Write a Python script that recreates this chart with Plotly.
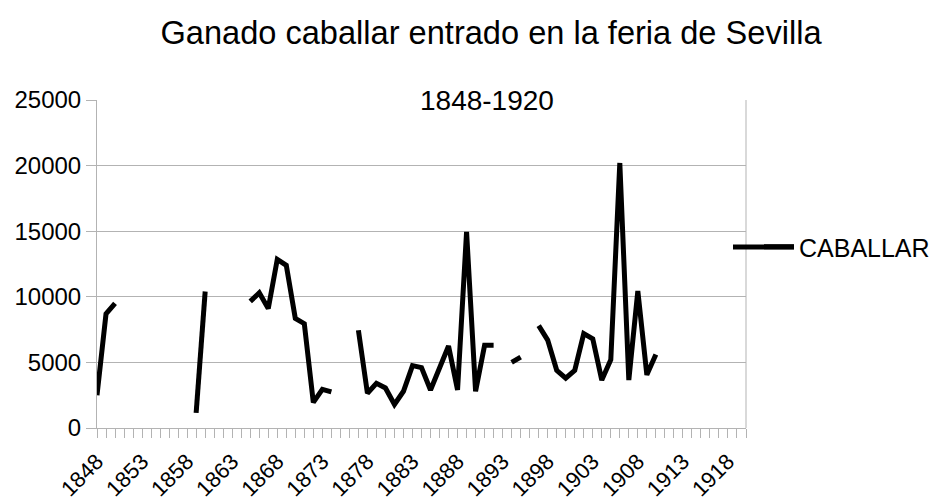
import plotly.graph_objects as go

years = list(range(1848, 1921))
caballar_known = {
    1848: 2500, 1849: 8700, 1850: 9500,
    1859: 1150, 1860: 10400,
    1865: 9650, 1866: 10300, 1867: 9100, 1868: 12850, 1869: 12400,
    1870: 8350, 1871: 7950, 1872: 1950, 1873: 2950, 1874: 2750,
    1877: 7450, 1878: 2650, 1879: 3400, 1880: 3050, 1881: 1800,
    1882: 2800, 1883: 4750, 1884: 4600, 1885: 2900, 1886: 4550,
    1887: 6250, 1888: 2900, 1889: 14950, 1890: 2800, 1891: 6300,
    1892: 6300,
    1894: 5000, 1895: 5400,
    1897: 7800, 1898: 6700, 1899: 4400, 1900: 3800, 1901: 4400,
    1902: 7200, 1903: 6800, 1904: 3650, 1905: 5200, 1906: 20200,
    1907: 3650, 1908: 10450, 1909: 4050, 1910: 5600,
}
caballar = [caballar_known.get(y) for y in years]
tick_years = list(range(1848, 1920, 5))
tick_labels = [str(y) for y in tick_years]
y_ticks = [0, 5000, 10000, 15000, 20000, 25000]
y_labels = [str(v) for v in y_ticks]

FONT = "Liberation Sans, Arial, sans-serif"
GRID = "#b3b3b3"

# page body has an 8px margin; figure sized to fit the 939x502 window
W, H = 931, 494
ML, MR, MT, MB = 89, 193, 92, 74
PW, PH = W - ML - MR, H - MT - MB
LEG_Y = (420 - 239) / PH

fig = go.Figure()
fig.add_trace(go.Scatter(
    x=years, y=caballar, mode="lines", name="CABALLAR",
    line=dict(color="black", width=5), connectgaps=False,
))

fig.update_layout(
    width=W, height=H,
    paper_bgcolor="white", plot_bgcolor="white",
    margin=dict(l=ML, r=MR, t=MT, b=MB, autoexpand=False),
    font=dict(family=FONT, color="black"),
    title=dict(text="Ganado caballar entrado en la feria de Sevilla",
               x=483 / W, xanchor="center", y=1 - 25 / H, yanchor="middle",
               font=dict(size=32.6, family=FONT, color="black")),
    showlegend=True,
    legend=dict(x=1.02, xanchor="left", xref="paper", y=LEG_Y, yanchor="middle",
                font=dict(size=25, family=FONT, color="black"),
                bgcolor="rgba(0,0,0,0)"),
    annotations=[dict(text="1848-1920", x=(479 - ML) / PW, xref="paper",
                      y=1.0, yref="paper", yanchor="middle", xanchor="center",
                      showarrow=False, font=dict(size=28, family=FONT, color="black"))],
)
fig.update_xaxes(
    range=[1848, 1920], tickmode="array", tickvals=tick_years, ticktext=tick_labels,
    tickangle=-45, tickfont=dict(size=22, family=FONT, color="black"),
    ticklabelstandoff=2, automargin=False,
    showgrid=False, showline=True, linecolor=GRID, linewidth=1,
    ticks="outside", ticklen=9, tickcolor=GRID, tickwidth=1,
    minor=dict(tickmode="linear", tick0=1848, dtick=1, ticks="outside", ticklen=9,
               tickcolor=GRID, tickwidth=1, showgrid=False),
    mirror=False, zeroline=False,
)
fig.update_yaxes(
    range=[0, 25000], tickmode="array", tickvals=y_ticks, ticktext=y_labels,
    tickfont=dict(size=24, family=FONT, color="black"), automargin=False,
    showgrid=True, gridcolor=GRID, gridwidth=1,
    showline=True, linecolor=GRID, linewidth=1,
    ticks="outside", ticklen=10, tickcolor=GRID, tickwidth=1,
    zeroline=False,
)
# right border of plot area
fig.add_shape(type="line", xref="paper", yref="paper", x0=1, x1=1, y0=0, y1=1,
              line=dict(color=GRID, width=1))
# longer legend key line, as in the original
fig.add_shape(type="line", xref="paper", yref="paper",
              x0=(725 - ML) / PW, x1=(786 - ML) / PW, y0=LEG_Y, y1=LEG_Y,
              line=dict(color="black", width=5), layer="above")

fig.write_html("out.html")
